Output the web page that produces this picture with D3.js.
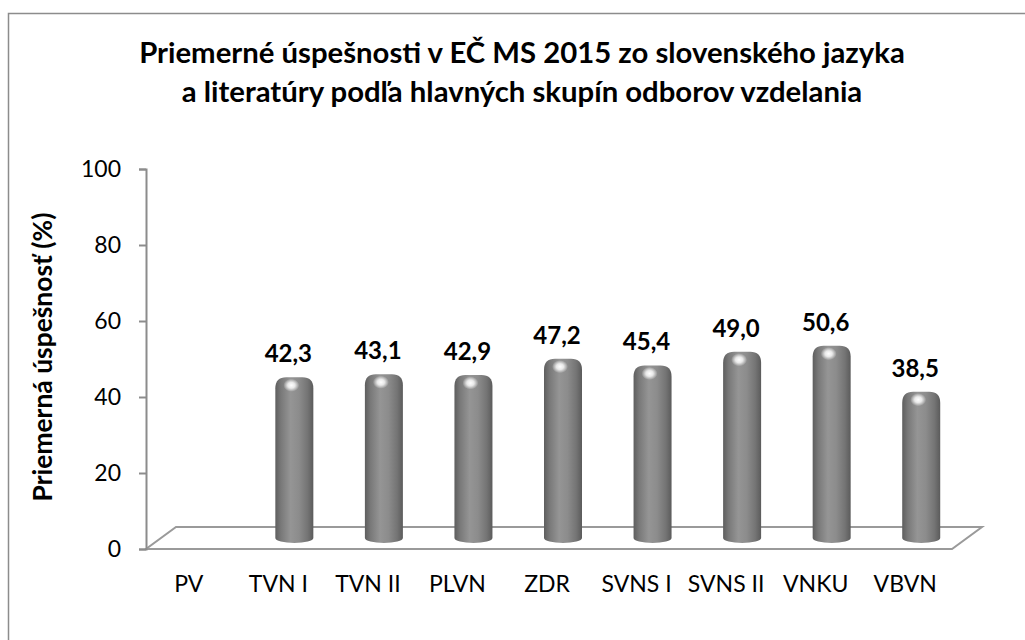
<!DOCTYPE html>
<html>
<head>
<meta charset="utf-8">
<script src="https://cdn.jsdelivr.net/npm/d3@7"></script>
<style>
  body { margin: 0; background: #fff; }
  svg { display: block; font-family: Lato, "Open Sans", sans-serif; }
</style>
</head>
<body>
<svg id="chart" width="1025" height="640"></svg>
<script>
// data
const categories = ["PV", "TVN I", "TVN II", "PLVN", "ZDR", "SVNS I", "SVNS II", "VNKU", "VBVN"];
const values = [null, 42.3, 43.1, 42.9, 47.2, 45.4, 49.0, 50.6, 38.5];
const yTicks = [0, 20, 40, 60, 80, 100];
const titleLines = ["Priemerné úspešnosti v EČ MS 2015 zo slovenského jazyka",
                    "a literatúry podľa hlavných skupín odborov vzdelania"];
const yTitle = "Priemerná úspešnosť (%)";

const svg = d3.select("#chart");

// 3d depth of the floor
const depthX = 30, depthY = -22;

const x = d3.scaleBand().domain(categories).range([144, 950]);
const y = d3.scaleLinear().domain([0, 100]).range([549, 169]);

// sizes text so it fills a given width
function fit(sel, w) {
  sel.each(function () {
    const len = this.getComputedTextLength();
    const fs = parseFloat(d3.select(this).style("font-size"));
    d3.select(this).style("font-size", (fs * w / len) + "px");
  });
}

// outer frame
svg.append("rect")
  .attr("x", 8.5).attr("y", 13.5)
  .attr("width", 1100).attr("height", 700)
  .attr("fill", "none").attr("stroke", "#8c8c8c").attr("stroke-width", 1.5);

// title
const title = svg.append("g").attr("font-weight", "bold").attr("text-anchor", "middle");
title.selectAll("text").data(titleLines).join("text")
  .attr("x", 522)
  .attr("y", (d, i) => 63 + i * 39)
  .style("font-size", "26px")
  .attr("fill", "#000")
  .text(d => d);
fit(title.selectAll("text").filter((d, i) => i === 0), 766);
title.selectAll("text").filter((d, i) => i === 1)
  .style("font-size", title.select("text").style("font-size"));

// y axis title
svg.append("text")
  .attr("transform", `translate(52,357) rotate(-90)`)
  .attr("text-anchor", "middle")
  .attr("font-weight", "bold")
  .style("font-size", "22px")
  .text(yTitle)
  .call(fit, 289);

// floor
const x0 = 146, x1 = 952, fy = y(0);
svg.append("path")
  .attr("d", `M${x0},${fy} L${x1},${fy} L${x1 + depthX},${fy + depthY} L${x0 + depthX},${fy + depthY} Z`)
  .attr("fill", "#fff").attr("stroke", "#9a9a9a").attr("stroke-width", 2);

// y axis
const yAxis = svg.append("g").attr("transform", `translate(${x0},0)`)
  .call(d3.axisLeft(y).tickValues(yTicks).tickSize(7).tickPadding(18));
yAxis.select(".domain").attr("stroke", "#8c8c8c").attr("stroke-width", 2);
yAxis.selectAll(".tick line").attr("stroke", "#8c8c8c").attr("stroke-width", 2);
yAxis.selectAll(".tick text")
  .attr("font-family", "Lato, sans-serif")
  .style("font-size", "23px").attr("fill", "#000");

// category labels
svg.append("g").selectAll("text").data(categories).join("text")
  .attr("x", d => x(d) + x.bandwidth() / 2)
  .attr("y", 592)
  .attr("text-anchor", "middle")
  .style("font-size", "23px")
  .attr("fill", "#000")
  .text(d => d);

// cylinder shading
const defs = svg.append("defs");
const grad = defs.append("linearGradient").attr("id", "cyl").attr("x1", 0).attr("x2", 1).attr("y1", 0).attr("y2", 0);
[[0, "#5e5e5e"], [0.15, "#797979"], [0.4, "#959595"], [0.62, "#8c8c8c"], [0.85, "#747474"], [1, "#5b5b5b"]]
  .forEach(s => grad.append("stop").attr("offset", s[0]).attr("stop-color", s[1]));
const hl = defs.append("radialGradient").attr("id", "hl");
hl.append("stop").attr("offset", 0).attr("stop-color", "#fff").attr("stop-opacity", 1);
hl.append("stop").attr("offset", 0.45).attr("stop-color", "#fff").attr("stop-opacity", 0.8);
hl.append("stop").attr("offset", 1).attr("stop-color", "#fff").attr("stop-opacity", 0);

const barW = 38, capR = 11, bottomRy = 5;
const bars = categories.map((c, i) => ({ c, v: values[i] })).filter(d => d.v != null);

const barG = svg.append("g").selectAll("g").data(bars).join("g");
barG.append("path")
  .attr("d", d => {
    const cx = x(d.c) + x.bandwidth() / 2 + depthX / 2 + 1;
    const l = cx - barW / 2, r = cx + barW / 2;
    const top = y(d.v) + depthY / 2;
    const base = y(0) + depthY / 2;
    return `M${l},${base} L${l},${top + capR} Q${l},${top} ${l + capR},${top} ` +
      `L${r - capR},${top} Q${r},${top} ${r},${top + capR} L${r},${base} ` +
      `A${barW / 2},${bottomRy} 0 0 1 ${l},${base} Z`;
  })
  .attr("fill", "url(#cyl)");
barG.append("ellipse")
  .attr("cx", d => x(d.c) + x.bandwidth() / 2 + depthX / 2 - 2)
  .attr("cy", d => y(d.v) + depthY / 2 + 8)
  .attr("rx", 8).attr("ry", 6.5)
  .attr("fill", "url(#hl)");

// value labels
svg.append("g").selectAll("text").data(bars).join("text")
  .attr("x", d => x(d.c) + x.bandwidth() / 2 + 10)
  .attr("y", d => y(d.v) + depthY / 2 - 15)
  .attr("text-anchor", "middle")
  .attr("font-weight", "bold")
  .style("font-size", "24px")
  .attr("fill", "#000")
  .text(d => d3.format(".1f")(d.v).replace(".", ","));
</script>
</body>
</html>
